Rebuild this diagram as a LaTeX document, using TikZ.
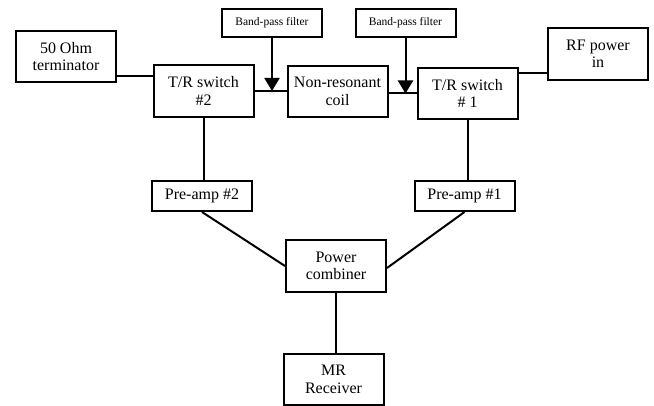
\documentclass[tikz,border=0pt]{standalone}
\usepackage{fontspec}
\setmainfont{Liberation Serif}
\usetikzlibrary{arrows.meta}

\begin{document}
\begin{tikzpicture}[x=1pt, y=-1pt, line width=2pt,
  block/.style={draw, align=center, inner sep=0pt, minimum width=100pt,
    minimum height=51pt, font=\fontsize{16}{17.5}\selectfont},
  amp/.style={block, minimum height=30pt},
  filt/.style={draw, align=center, inner sep=0pt, minimum width=100pt,
    minimum height=28pt, font=\fontsize{11.5}{13}\selectfont},
  feed/.style={-{Triangle[width=15pt, length=13pt]}}]

  % Page size
  \useasboundingbox (0,0) rectangle (654,406);

  % Top row
  \node[block] (term) at (66,56.5) {50 Ohm\\terminator};
  \node[block, minimum height=52pt] (tr2) at (203.5,91) {T/R switch\\\#2};
  \node[block] (coil) at (337.5,91.5) {Non-resonant\\coil};
  \node[block] (tr1) at (467.5,93.5) {T/R switch\\\# 1};
  \node[block, minimum height=52pt] (rf) at (598,54) {RF power\\in};

  % Filters
  \node[filt] (bpf2) at (272,23) {Band-pass filter};
  \node[filt] (bpf1) at (405.5,23) {Band-pass filter};

  % Receive chain
  \node[amp] (pre2) at (202,196) {Pre-amp \#2};
  \node[amp] (pre1) at (464.5,196) {Pre-amp \#1};
  \node[block, minimum height=52pt] (comb) at (336,266) {Power\\combiner};
  \node[block] (mr) at (333.5,379.5) {MR\\Receiver};

  % Side connections
  \coordinate (tj) at ([yshift=-19.5pt]term.east);
  \coordinate (rj) at ([yshift=-19pt]rf.west);
  \draw (tj) -- (tj -| tr2.west);
  \draw (rj) -- (rj -| tr1.east);

  % Coil connections with filters
  \draw (tr2.east) -- (tr2.east -| coil.west);
  \draw (coil.east |- tr1.west) -- (tr1.west);
  \draw[feed] (bpf2.south) -- (bpf2.south |- tr2.east);
  \draw[feed] (bpf1.south) -- (bpf1.south |- tr1.west);

  % Down to the receiver
  \draw (tr2.south) -- (tr2.south |- pre2.north);
  \draw (tr1.south) -- (tr1.south |- pre1.north);
  \draw (pre2.south) -- (comb.west);
  \draw (pre1.south) -- ([yshift=-2pt]comb.east);
  \draw (comb.south) -- (comb.south |- mr.north);
\end{tikzpicture}
\end{document}
